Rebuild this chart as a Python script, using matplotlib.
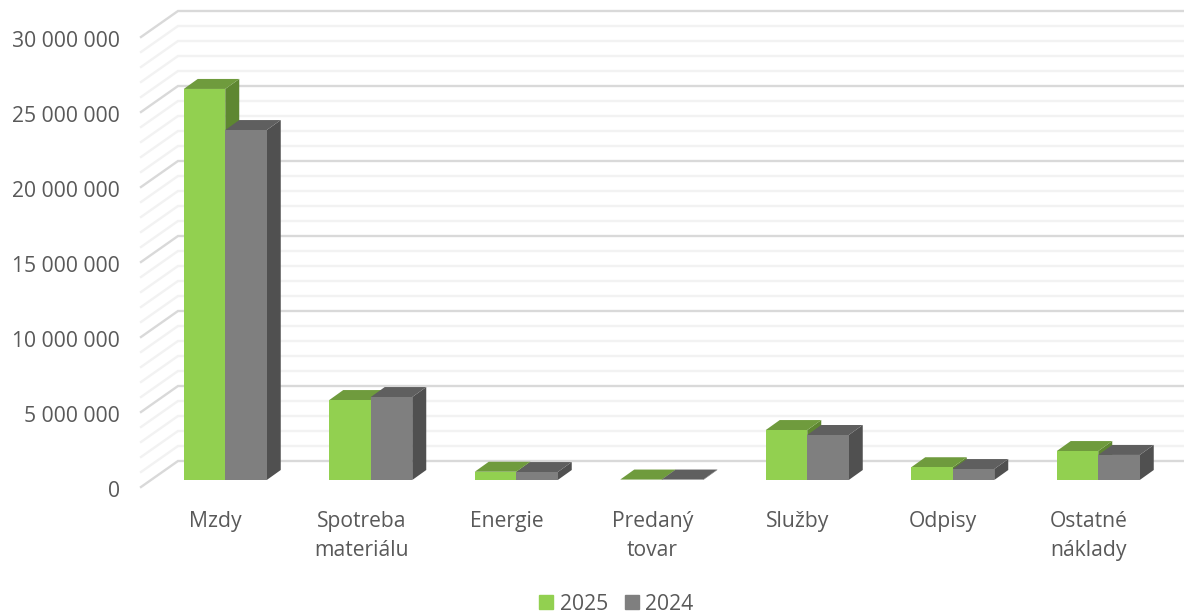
import numpy as np
import matplotlib
matplotlib.use('Agg')
import matplotlib.pyplot as plt
from matplotlib.patches import Polygon, Patch
from matplotlib.transforms import ScaledTranslation

plt.rcParams['font.family'] = ['Open Sans', 'DejaVu Sans']

categories = ['Mzdy', 'Spotreba\nmateriálu', 'Energie', 'Predaný\ntovar', 'Služby', 'Odpisy', 'Ostatné\nnáklady']
values_2025 = [26070000, 5330000, 550000, 30000, 3330000, 850000, 1930000]
values_2024 = [23330000, 5530000, 530000, 30000, 3000000, 730000, 1670000]
major_ticks = [0, 5000000, 10000000, 15000000, 20000000, 25000000, 30000000]
major_labels = ['0', '5 000 000', '10 000 000', '15 000 000', '20 000 000', '25 000 000', '30 000 000']
minor_ticks = [v * 1000000 for v in range(31) if v % 5 != 0]

W, H = 1184, 614
fig = plt.figure(figsize=(W / 100, H / 100), dpi=100)
# front plane of the fake 3D box: x 142..1160.5 px, y 487 (0) .. 37 (30M)
ax = fig.add_axes([142 / W, 1 - 487 / H, 1018.5 / W, 450 / H])
ax.set_xlim(-0.5, 6.5)
ax.set_ylim(0, 30000000)

# pixel sizes in data units, the depth offsets are given in pixels
px_x = 7 / 1018.5
px_y = 30000000 / 450


def shift(x, y, dx, dy):
    return x + dx * px_x, y + dy * px_y


wall_dx, wall_dy = 36, 26

# gridlines on the back wall and the left side wall
for ticks, col, lw in [(minor_ticks, '#F2F2F2', 1.7), (major_ticks, '#D9D9D9', 1.7)]:
    for v in ticks:
        x0, y0 = shift(-0.5, v, -1, 0)
        x1, y1 = shift(-0.5, v, wall_dx, wall_dy)
        ax.plot([x0, x1, 6.7], [y0, y1, y1], color=col, lw=lw, clip_on=False, zorder=1,
                solid_joinstyle='miter')

# bars stand a bit behind the front plane
bar_dx, bar_dy = 10.5, 7
depth_dx, depth_dy = 14, 10
bar_w = 41.5 * px_x
colors = {
    '2025': ('#92D050', '#6F9B3D', '#5E8731'),
    '2024': ('#7F7F7F', '#5F5F5F', '#505050'),
}

idx = np.arange(len(categories))
# 2025 goes first, the 2024 bar covers its side
for name, vals, off, z in [('2025', values_2025, -0.5, 3), ('2024', values_2024, 0.5, 4)]:
    front, top, side = colors[name]
    xs = idx + bar_dx * px_x + off * bar_w
    ax.bar(xs, vals, bar_w, bottom=bar_dy * px_y, color=front, zorder=z + 0.5, clip_on=False)
    for x, v in zip(xs, vals):
        l, r = x - bar_w / 2, x + bar_w / 2
        b = bar_dy * px_y
        t = b + v
        top_pts = [(l, t), (r, t), shift(r, t, depth_dx, depth_dy), shift(l, t, depth_dx, depth_dy)]
        side_pts = [(r, b), (r, t), shift(r, t, depth_dx, depth_dy), shift(r, b, depth_dx, depth_dy)]
        ax.add_patch(Polygon(side_pts, closed=True, facecolor=side, edgecolor='none', zorder=z, clip_on=False))
        ax.add_patch(Polygon(top_pts, closed=True, facecolor=top, edgecolor='none', zorder=z, clip_on=False))

for s in ax.spines.values():
    s.set_visible(False)
ax.patch.set_alpha(0)

ax.set_xticks(idx)
ax.set_xticklabels(categories, color='#595959', fontsize=15.2, linespacing=1.5)
ax.set_yticks(major_ticks)
ax.set_yticklabels(major_labels, color='#595959', fontsize=15.2)
ax.tick_params(axis='both', length=0)
ax.tick_params(axis='y', pad=16)
ax.tick_params(axis='x', pad=17)

# y labels sit about 2 px lower in the original, x labels 1 px to the right
down = ScaledTranslation(0, -2 / 100, fig.dpi_scale_trans)
for lab in ax.get_yticklabels():
    lab.set_transform(lab.get_transform() + down)
right = ScaledTranslation(1 / 100, 0, fig.dpi_scale_trans)
for lab in ax.get_xticklabels():
    lab.set_transform(lab.get_transform() + right)

handles = [Patch(color=colors['2025'][0], label='2025'), Patch(color=colors['2024'][0], label='2024')]
fig.legend(handles=handles, loc='center', bbox_to_anchor=(616.5 / W, 1 - 604 / H), ncol=2, frameon=False,
           fontsize=15.2, labelcolor='#595959', handlelength=0.67, handleheight=0.67, handletextpad=0.3,
           columnspacing=0.8, borderpad=0)

plt.savefig('out.png', dpi=100)
